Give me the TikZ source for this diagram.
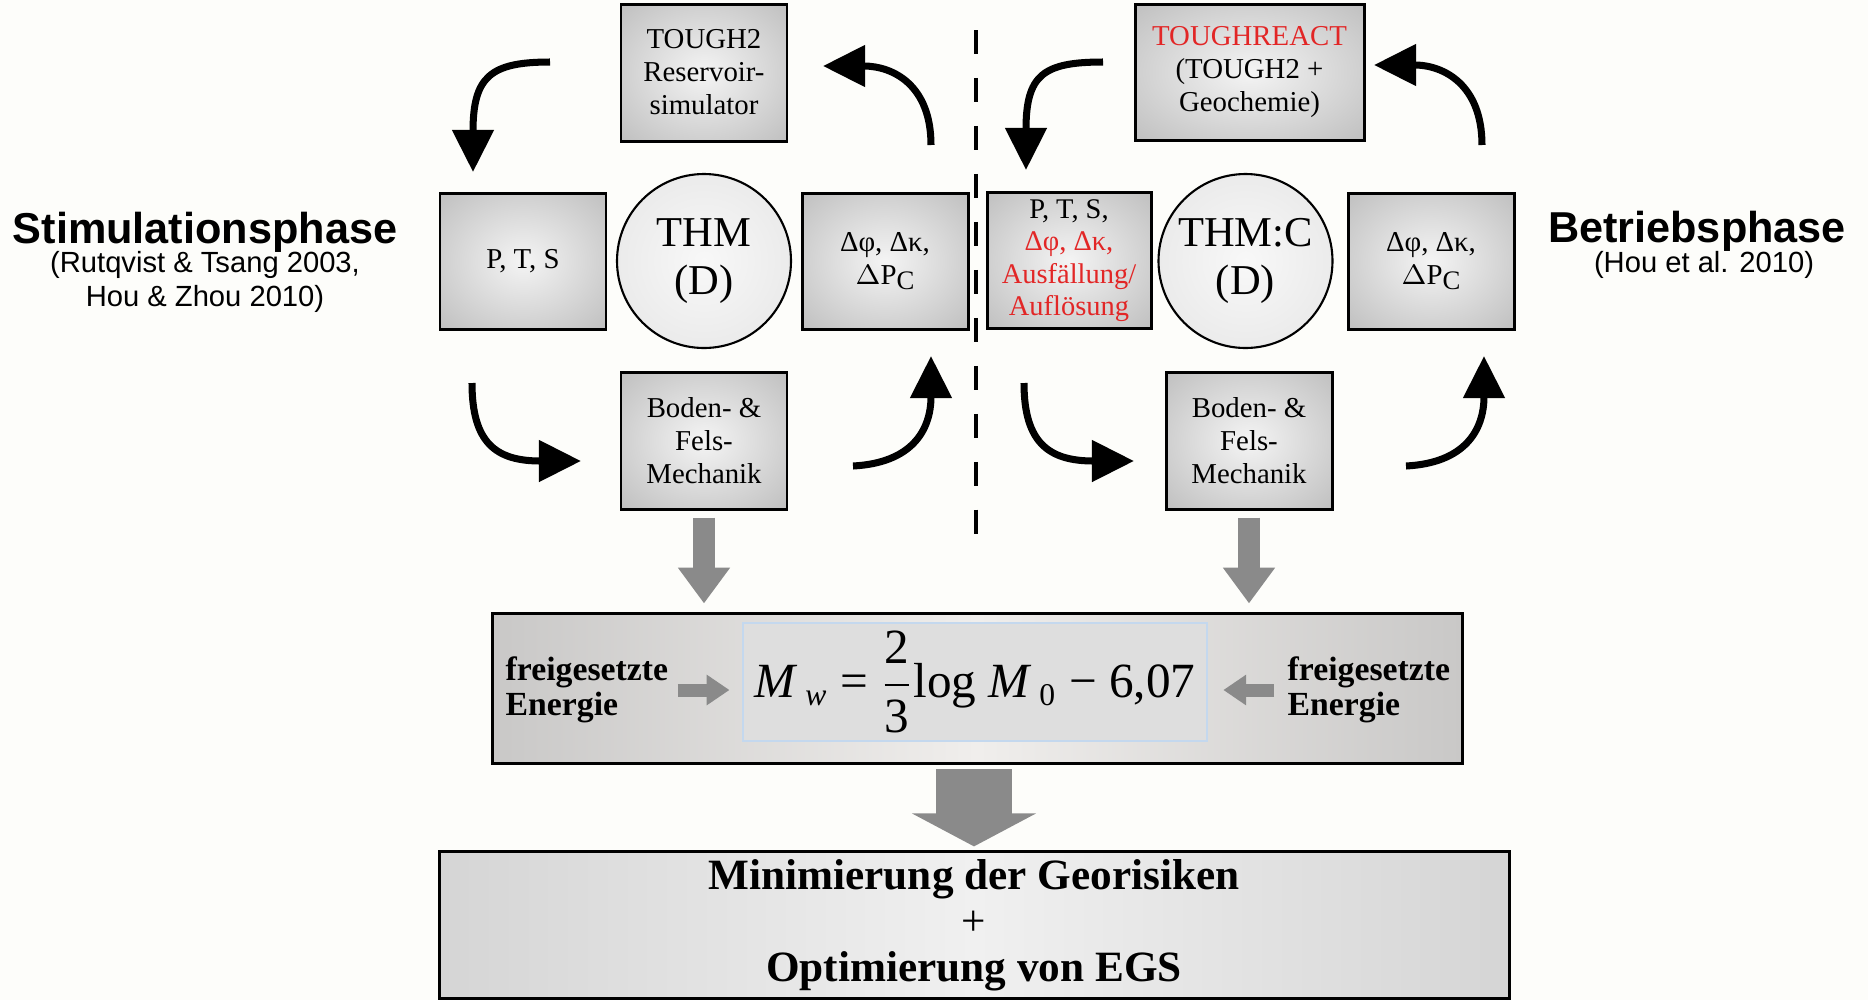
\documentclass[tikz,border=0pt]{standalone}
\usepackage{fontspec}
\setmainfont{Liberation Serif}
\newfontfamily\arialfont{Liberation Sans}
\usetikzlibrary{arrows.meta}

\definecolor{bg}{RGB}{253,253,250}
\definecolor{boxin}{RGB}{244,244,244}
\definecolor{boxout}{RGB}{170,170,170}
\definecolor{circin}{RGB}{248,248,248}
\definecolor{circout}{RGB}{222,222,222}
\definecolor{tred}{RGB}{226,38,38}
\definecolor{garrow}{RGB}{138,138,138}
\definecolor{barlight}{RGB}{240,238,236}
\definecolor{bardark}{RGB}{162,162,162}
\definecolor{goallight}{RGB}{240,240,240}
\definecolor{goaldark}{RGB}{186,186,186}
\definecolor{innerfill}{RGB}{222,222,222}
\definecolor{innerline}{RGB}{196,216,238}

\pgfdeclareradialshading{boxshade}{\pgfpoint{0bp}{0bp}}{color(0bp)=(boxin); color(50bp)=(boxout); color(72bp)=(boxout)}
\pgfdeclareradialshading{circshade}{\pgfpoint{0bp}{0bp}}{color(0bp)=(circin); color(50bp)=(circout); color(72bp)=(circout)}
\pgfdeclarehorizontalshading{barshade}{100bp}{color(0bp)=(bardark); color(50bp)=(barlight); color(100bp)=(bardark)}
\pgfdeclarehorizontalshading{goalshade}{100bp}{color(0bp)=(goaldark); color(50bp)=(goallight); color(100bp)=(goaldark)}

\tikzset{
  stdbox/.style={draw=black, line width=0.85pt, shade, shading=boxshade, align=center,
    inner sep=0pt, minimum width=16.6mm, minimum height=13.6mm,
    font=\fontsize{8.2}{9.4}\selectfont},
  thmcirc/.style={circle, draw=black, line width=0.6pt, shade, shading=circshade, align=center,
    minimum size=17.4mm, inner sep=0pt, font=\fontsize{12.1}{13.8}\selectfont},
  curvearrow/.style={line width=2pt, -{Triangle[length=12pt,width=11.5pt]}},
  grayarrow/.style={draw=garrow, line width=6.3pt, -{Triangle[length=10.2pt,width=14.2pt]},
    shorten <=2pt, shorten >=2.3pt},
  smallgray/.style={draw=garrow, line width=3.7pt, -{Triangle[length=6.5pt,width=8.3pt]}},
  biggray/.style={draw=garrow, line width=21.6pt, -{Triangle[length=9.4pt,width=35pt]},
    shorten <=1.4pt, shorten >=1.1pt},
  energy/.style={align=left, inner sep=0pt, font=\fontsize{9.6}{9.8}\selectfont\bfseries},
  phasetitle/.style={inner sep=0pt, anchor=base, font=\arialfont\bfseries\fontsize{12.3}{14}\selectfont},
  phasesub/.style={inner sep=0pt, align=center, font=\arialfont\fontsize{8.3}{9.4}\selectfont},
}

\newcommand{\dPC}{$\Delta$P\raisebox{-0.35ex}{\fontsize{7.6}{8}\selectfont C}}

\begin{document}
\begin{tikzpicture}[x=0.1mm,y=-0.1mm]
\fill[bg] (0,0) rectangle (1868,1000);
\useasboundingbox (0,0) rectangle (1868,1000);

% left cycle
\node[stdbox, minimum height=13.7mm] (tough2) at (704,72.5) {TOUGH2\\Reservoir-\\simulator};
\node[stdbox] (pts1) at (523,261) {P, T, S};
\node[thmcirc] (thm1) at (704,261) {THM\\(D)};
\node[stdbox] (dphi1) at (885,261) {Δφ, Δκ,\\\dPC};
\node[stdbox, minimum height=13.7mm] (bod1) at (704,440.5) {Boden- \&\\Fels-\\Mechanik};

% right cycle
\node[stdbox, minimum width=22.9mm] (treact) at (1249.5,72) {\textcolor{tred}{TOUGHREACT}\\(TOUGH2 +\\Geochemie)};
\node[stdbox, minimum width=16.4mm, font=\fontsize{8.1}{9.2}\selectfont] (pts2) at (1069,260.5)
  {P, T, S,\\\textcolor{tred}{Δφ, Δκ,}\\\textcolor{tred}{Ausfällung/}\\\textcolor{tred}{Auflösung}};
\node[thmcirc] (thm2) at (1245.5,261) {THM:C\\(D)};
\node[stdbox] (dphi2) at (1431,261) {Δφ, Δκ,\\\dPC};
\node[stdbox, minimum height=13.7mm] (bod2) at (1249,440.5) {Boden- \&\\Fels-\\Mechanik};

% separator
\draw[line width=1.15pt, dash pattern=on 6.8pt off 6.85pt] (976,30) -- (976,537);

% phase titles
\node[phasetitle] (stimt) at (205,243) {Stimulationsphase};
\node[phasesub, anchor=base] (stims) at (205,306) {(Rutqvist \& Tsang 2003,\\Hou \& Zhou 2010)};
\node[phasetitle] (betrt) at (1697,242) {Betriebsphase};
\node[phasesub, anchor=base] (betrs) at (1704,272) {(Hou et al. 2010)};

% curved arrows left
\coordinate (l1s) at (550,62);   \coordinate (l1e) at (473,172);
\coordinate (l2s) at (931,145);  \coordinate (l2e) at (823,66);
\coordinate (l3s) at (472,383);  \coordinate (l3e) at (581,461);
\coordinate (l4s) at (853,466);  \coordinate (l4e) at (931,356);
\draw[curvearrow] (l1s) .. controls +(-60,0) and +(0,-95) .. (l1e);
\draw[curvearrow] (l2s) .. controls +(0,-60) and +(70,0) .. (l2e);
\draw[curvearrow] (l3s) .. controls +(0,60) and +(-85,0) .. (l3e);
\draw[curvearrow] (l4s) .. controls +(58,-3) and +(0,75) .. (l4e);

% curved arrows right
\coordinate (r1s) at (1103,62);  \coordinate (r1e) at (1026,170);
\coordinate (r2s) at (1482,145); \coordinate (r2e) at (1374,65);
\coordinate (r3s) at (1024,383); \coordinate (r3e) at (1134,461);
\coordinate (r4s) at (1406,466); \coordinate (r4e) at (1484,356);
\draw[curvearrow] (r1s) .. controls +(-60,0) and +(0,-95) .. (r1e);
\draw[curvearrow] (r2s) .. controls +(0,-60) and +(70,0) .. (r2e);
\draw[curvearrow] (r3s) .. controls +(0,60) and +(-85,0) .. (r3e);
\draw[curvearrow] (r4s) .. controls +(58,-3) and +(0,75) .. (r4e);

% formula bar
\node[draw=black, line width=0.85pt, shade, shading=barshade, minimum width=97mm, minimum height=15mm,
  inner sep=0pt] (bar) at (977,688) {};
\node[draw=innerline, line width=0.3pt, fill=innerfill, minimum width=46.4mm, minimum height=11.8mm,
  inner sep=0pt, font=\fontsize{14}{16}\selectfont] (formula) at (975,682)
  {$\displaystyle \mbox{\itshape M}_{\;\mbox{\fontsize{9}{9}\selectfont\itshape w}}\mbox{ = }\frac{\mbox{2}}{\mbox{3}}\mbox{log }\mbox{\itshape M}_{\;\mbox{\fontsize{9}{9}\selectfont 0}}\mbox{ − 6,07}$};
\node[energy, anchor=west] (frei1) at (505,690) {freigesetzte\\Energie};
\node[energy, anchor=west] (frei2) at (1287,690) {freigesetzte\\Energie};
\draw[smallgray, shorten <=2.6pt, shorten >=3.7pt] (frei1.east) -- (frei1.east -| formula.west);
\draw[smallgray, shorten <=3.7pt, shorten >=4.5pt] (frei2.west) -- (frei2.west -| formula.east);

% goal box
\node[draw=black, line width=0.85pt, shade, shading=goalshade, minimum width=107mm, minimum height=14.65mm,
  inner sep=0pt, align=center, font=\fontsize{12.3}{13.1}\selectfont\bfseries] (goal) at (974,925)
  {Minimierung der Georisiken\\\textnormal{+}\\Optimierung von EGS};

% gray arrows
\draw[grayarrow] (bod1.south) -- (bod1.south |- bar.north);
\draw[grayarrow] (bod2.south) -- (bod2.south |- bar.north);
\draw[biggray] (bar.south -| goal.north) -- (goal.north);
\end{tikzpicture}
\end{document}
